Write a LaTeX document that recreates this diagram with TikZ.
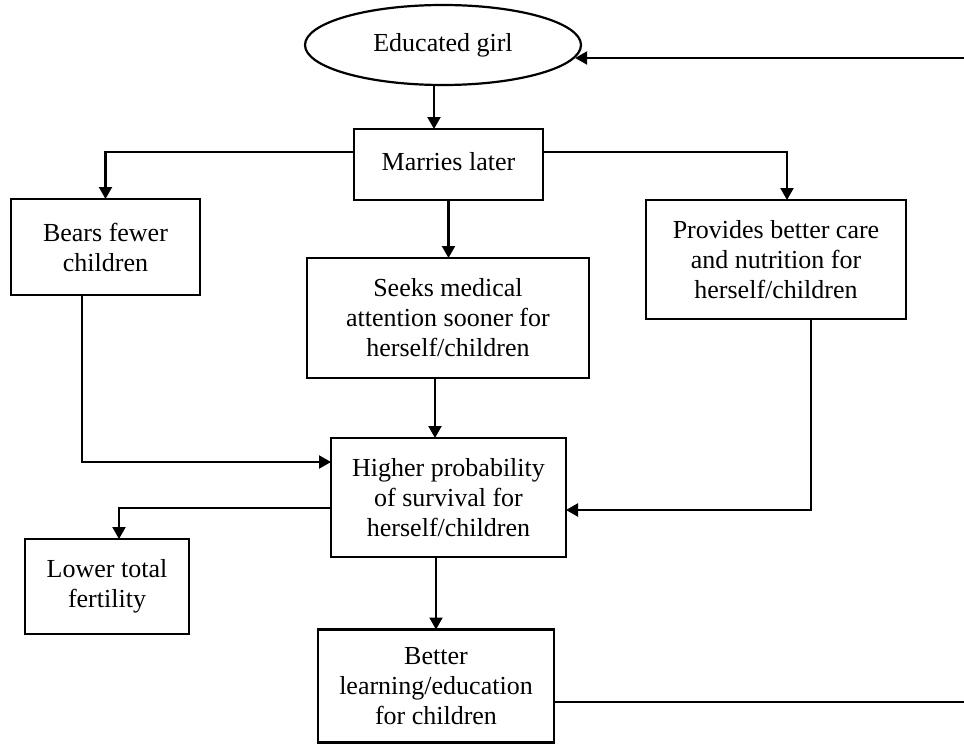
\documentclass[tikz,border=0pt]{standalone}
\usepackage{fontspec}
\setmainfont{Liberation Serif}
\usetikzlibrary{arrows.meta,shapes.geometric}
\newcommand{\diagfont}{\fontsize{26}{30}\selectfont}
\tikzset{
  box/.style={draw, line width=2.2pt, inner sep=0pt, outer sep=0pt, align=center, font=\diagfont, rectangle},
  oval/.style={draw, line width=2.2pt, inner sep=0pt, outer sep=0pt, align=center, font=\diagfont, ellipse},
  arr/.style={line width=2.2pt, -{Triangle[length=12pt,width=13pt]}},
  plain/.style={line width=2.2pt}
}
\begin{document}
\begin{tikzpicture}[x=1pt,y=-1pt]
\useasboundingbox (0,0) rectangle (964,744);
\fill[white] (0,0) rectangle (964,744);

\node[oval, minimum width=276pt, minimum height=80pt] (girl) at (443,45) {Educated girl};
\node[box, minimum width=189pt, minimum height=71pt] (marries) at (448.5,164.5) {\raisebox{7pt}{Marries later}};
\node[box, minimum width=189pt, minimum height=96pt] (bears) at (105.5,247) {Bears fewer\\children};
\node[box, minimum width=282pt, minimum height=120pt] (seeks) at (448,318) {Seeks medical\\attention sooner for\\herself/children};
\node[box, minimum width=260pt, minimum height=119pt] (provides) at (776,259.5) {Provides better care\\and nutrition for\\herself/children};
\node[box, minimum width=235pt, minimum height=119pt] (higher) at (448.5,497.5) {Higher probability\\of survival for\\herself/children};
\node[box, minimum width=164pt, minimum height=95pt] (lower) at (107,586.5) {\raisebox{4pt}{\begin{tabular}{@{}c@{}}Lower total\\fertility\end{tabular}}};
\node[box, minimum width=236pt, minimum height=113pt] (better) at (436,686) {Better\\learning/education\\for children};

\coordinate (edgeT) at (964,58);
\coordinate (edgeB) at (964,702);
\coordinate (colA) at (434,0);

\draw[arr] (girl.south -| colA) -- (marries.north -| colA);
\draw[arr] ([yshift=12.5pt]marries.west) -| (bears.north);
\draw[arr] ([yshift=12.5pt]marries.east) -| ([xshift=11pt]provides.north);
\draw[arr] (marries.south) -- (marries.south |- seeks.north);
\draw[arr] ([xshift=-13pt]seeks.south) -- ([xshift=-13pt]seeks.south |- higher.north);
\draw[arr] ([xshift=-23.5pt]bears.south) |- ([yshift=35.5pt]higher.west);
\draw[arr] ([xshift=35pt]provides.south) |- ([yshift=-12.5pt]higher.east);
\draw[arr] ([yshift=-10.5pt]higher.west) -| ([xshift=12pt]lower.north);
\draw[arr] ([xshift=-12.5pt]higher.south) -- (better.north);
\draw[plain] (better.east |- edgeB) -- (edgeB);
\draw[arr] (edgeT) -- (edgeT -| girl.-5.65);
\end{tikzpicture}
\end{document}
